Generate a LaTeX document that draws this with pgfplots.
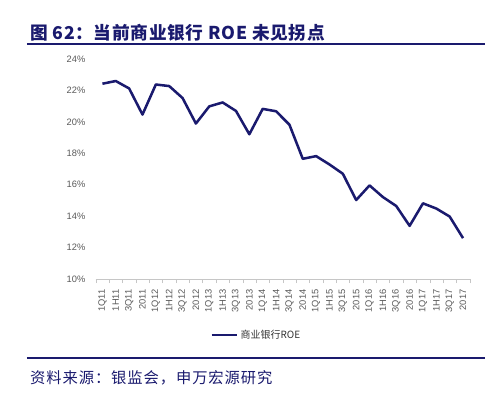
\documentclass[border=0pt]{standalone}
\usepackage{pgfplots}
\pgfplotsset{compat=1.18}
\usepackage{fontspec}
\setmainfont{Liberation Sans}
\newfontfamily\cjk{Noto Sans CJK SC}
\definecolor{navy}{RGB}{26,26,110}
\definecolor{ticktext}{RGB}{89,89,89}
\begin{document}
\begin{tikzpicture}[x=0.75pt,y=0.75pt]
% page frame, in pixels of the reference (y counted from the bottom)
\path (0,0) rectangle (486,409);

\node[anchor=west,inner sep=0pt,text=navy,font=\cjk\bfseries\fontsize{13.3}{15}\selectfont\addfontfeature{LetterSpace=4}] at (30,376) {图 62：当前商业银行 ROE 未见拐点};
\draw[navy,line width=1.6pt] (27,365) -- (486,365);

\begin{axis}[
	at={(72pt,96.75pt)},
	anchor=south west,
	scale only axis,
	width=281.25pt,
	height=165.75pt,
	xmin=-0.5, xmax=27.5,
	ymin=10, ymax=24,
	axis lines*=left,
	x axis line style={draw=gray!45},
	y axis line style={draw=none},
	ytick={10,12,...,24},
	yticklabel={\pgfmathprintnumber{\tick}\%},
	ytick style={draw=none},
	xtick={0,...,27},
	xticklabels={1Q11,1H11,3Q11,2011,1Q12,1H12,3Q12,2012,1Q13,1H13,3Q13,2013,1Q14,1H14,3Q14,2014,1Q15,1H15,3Q15,2015,1Q16,1H16,3Q16,2016,1Q17,1H17,3Q17,2017},
	major x tick style={draw=none},
	minor xtick={-0.5,0.5,...,27.5},
	minor x tick style={draw=gray!45},
	minor tick length=3pt,
	tick align=outside,
	xticklabel style={rotate=90,anchor=east},
	ticklabel style={font=\fontsize{7}{8}\selectfont,text=ticktext},
	/pgf/number format/assume math mode=true,
	legend style={at={(0.43,-0.253)},anchor=center,draw=none,fill=none,
		font=\cjk\fontsize{7.5}{9}\selectfont,text=black!80,inner sep=0pt},
	legend image code/.code={\draw[#1,line width=1.9pt] (0pt,0pt) -- (19pt,0pt);},
	legend cell align=left
	]
\addplot[color=navy,line width=1.9pt,line join=round,mark=none]
table[row sep=crcr]{
0  22.42\\
1  22.59\\
2  22.12\\
3  20.46\\
4  22.37\\
5  22.27\\
6  21.51\\
7  19.89\\
8  20.98\\
9  21.23\\
10 20.69\\
11 19.21\\
12 20.82\\
13 20.67\\
14 19.82\\
15 17.65\\
16 17.82\\
17 17.29\\
18 16.70\\
19 15.03\\
20 15.96\\
21 15.22\\
22 14.65\\
23 13.39\\
24 14.82\\
25 14.49\\
26 13.98\\
27 12.61\\
};\addlegendentry{商业银行ROE};
\end{axis}

\draw[navy,line width=2pt] (27,50) -- (486,50);
\node[anchor=west,inner sep=0pt,text=navy,font=\cjk\fontsize{11.5}{13}\selectfont\addfontfeature{LetterSpace=6}] at (30,30) {资料来源：银监会，申万宏源研究};
\end{tikzpicture}
\end{document}
